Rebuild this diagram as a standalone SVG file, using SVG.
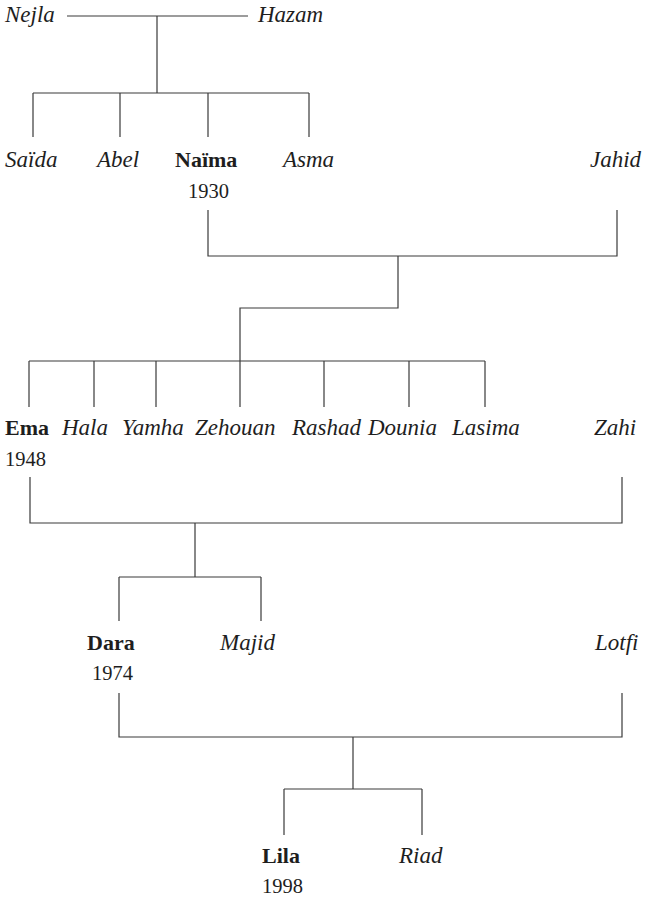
<svg xmlns="http://www.w3.org/2000/svg" width="646" height="899" viewBox="0 0 646 899">
<style>
.c{fill:none;stroke:#3a3a3a;stroke-width:1.2}
text{font-family:"Liberation Serif","Times New Roman",serif;fill:#1e1e1e}
.n{font-size:23px;font-style:italic}
.b{font-size:22px;font-weight:bold}
.y{font-size:20.5px}
</style>
<rect width="646" height="899" fill="#fff"/>
<g id="connectors" class="c">
<path d="M67,16H248M157,16V93M33,93H309M33,93V137M120,93V137M208,93V137M309,93V137"/>
<path d="M208,210V256H617V210M398,256V308H240V407M29,361H485M29,361V407M94,361V407M156,361V407M324,361V407M409,361V407M485,361V407"/>
<path d="M30,477V523H622V477M195,523V577M119,577H261M119,577V621M261,577V621"/>
<path d="M119,693V737H622V693M353,737V789M284,789H422M284,789V835M422,789V835"/>
</g>
<g id="nejla"><text class="n" x="5" y="22">Nejla</text></g>
<g id="hazam"><text class="n" x="258" y="22">Hazam</text></g>
<g id="saida"><text class="n" x="5" y="167">Saïda</text></g>
<g id="abel"><text class="n" x="97" y="167">Abel</text></g>
<g id="naima"><text class="b" x="175" y="167">Naïma</text><text class="y" x="188" y="198">1930</text></g>
<g id="asma"><text class="n" x="283" y="167">Asma</text></g>
<g id="jahid"><text class="n" x="590" y="167">Jahid</text></g>
<g id="ema"><text class="b" x="5" y="435">Ema</text><text class="y" x="5" y="466">1948</text></g>
<g id="hala"><text class="n" x="62" y="435">Hala</text></g>
<g id="yamha"><text class="n" x="122" y="435">Yamha</text></g>
<g id="zehouan"><text class="n" x="195" y="435">Zehouan</text></g>
<g id="rashad"><text class="n" x="292" y="435">Rashad</text></g>
<g id="dounia"><text class="n" x="368" y="435">Dounia</text></g>
<g id="lasima"><text class="n" x="452" y="435">Lasima</text></g>
<g id="zahi"><text class="n" x="594" y="435">Zahi</text></g>
<g id="dara"><text class="b" x="87" y="650">Dara</text><text class="y" x="92" y="680">1974</text></g>
<g id="majid"><text class="n" x="220" y="650">Majid</text></g>
<g id="lotfi"><text class="n" x="595" y="650">Lotfi</text></g>
<g id="lila"><text class="b" x="262" y="863">Lila</text><text class="y" x="262" y="893">1998</text></g>
<g id="riad"><text class="n" x="399" y="863">Riad</text></g>
</svg>
